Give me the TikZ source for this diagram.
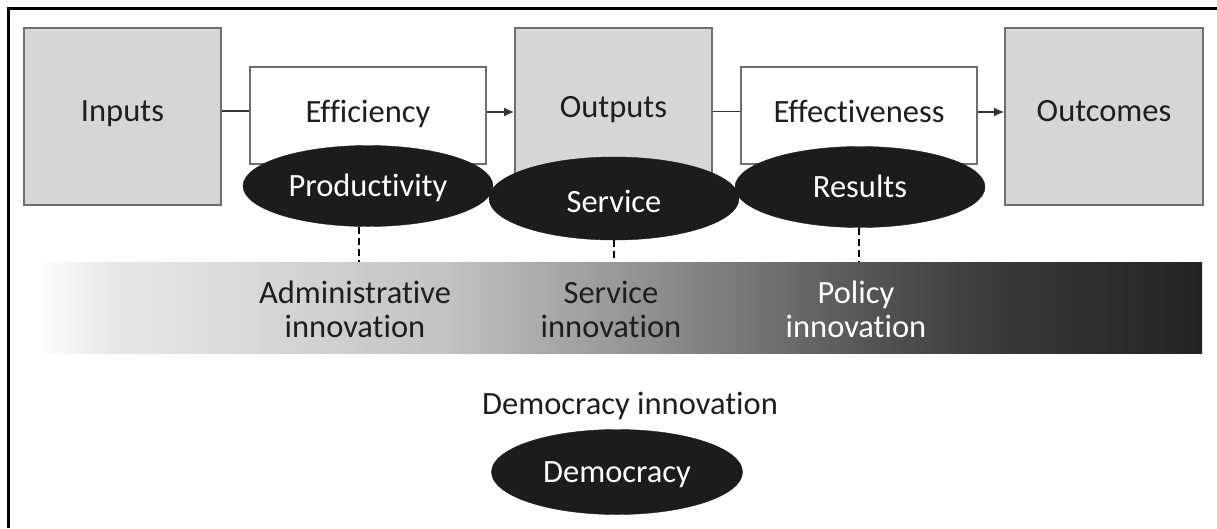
\documentclass[tikz,border=0pt]{standalone}
\usepackage{fontspec}
\setmainfont{Carlito}[Ligatures=NoCommon]
\usetikzlibrary{shapes.geometric,arrows.meta}
\definecolor{boxfill}{HTML}{D6D6D6}
\definecolor{boxline}{HTML}{6E6E6E}
\definecolor{ink}{HTML}{1E1E1E}
\definecolor{ovalfill}{HTML}{1C1C1C}
\pgfdeclarehorizontalshading{barshade}{100bp}{color(0bp)=(white); color(25bp)=(white); color(26.5bp)=(black!4); color(28.3bp)=(black!9); color(34.3bp)=(black!15); color(42.8bp)=(black!24); color(49.9bp)=(black!40); color(55.7bp)=(black!54); color(60.4bp)=(black!66); color(66.4bp)=(black!78); color(75bp)=(black!86); color(100bp)=(black!86)}
\begin{document}
\begin{tikzpicture}[x=1pt,y=-1pt,
  every node/.style={font=\fontsize{32.5pt}{34pt}\selectfont, text=ink},
  bigbox/.style={draw=boxline, line width=1.6pt, fill=boxfill, minimum width=197pt, minimum height=177pt, inner sep=0pt, text height=20pt, text depth=11pt},
  smallbox/.style={draw=boxline, line width=1.6pt, fill=white, minimum width=236pt, minimum height=97pt, inner sep=0pt, text height=20pt, text depth=6pt},
  oval/.style={ellipse, fill=ovalfill, draw=ovalfill, minimum width=250pt, minimum height=81pt, inner sep=0pt, text=white, text height=20pt, text depth=0pt},
  link/.style={draw=black!80, line width=1.8pt},
  arrowlink/.style={link, -{Latex[length=10pt,width=9pt]}},
  dashline/.style={draw=black, line width=2.5pt, dash pattern=on 7pt off 4pt},
  bartext/.style={align=center, text height=20pt, text depth=0pt},
  barband/.style={shading=barshade, draw=none, minimum width=1169pt, minimum height=91pt, inner sep=0pt}]
\useasboundingbox (0,0) rectangle (1217,528);
% frame
\draw[line width=2.4pt] (8.3,528) -- (8.3,8.3) -- (1217,8.3);
% boxes
\node[bigbox] (inputs) at (122.5,116.5) {Inputs};
\node[smallbox] (eff) at (368,115.5) {Efficiency};
\node[bigbox, text depth=19pt] (outputs) at (613.5,116.5) {Outputs};
\node[smallbox] (effe) at (859,115.5) {Effectiveness};
\node[bigbox, minimum width=198pt] (outcomes) at (1104,116.5) {Outcomes};
% connectors
\draw[link] ([yshift=5.5pt]inputs.east) -- ([yshift=5.5pt]inputs.east -| eff.west);
\draw[arrowlink] ([yshift=3.5pt]eff.east) -- ([yshift=3.5pt]eff.east -| outputs.west);
\draw[link] ([yshift=5pt]outputs.east) -- ([yshift=5pt]outputs.east -| effe.west);
\draw[arrowlink] ([yshift=3.5pt]effe.east) -- ([yshift=3.5pt]effe.east -| outcomes.west);
% gradient band
\node[barband] (bar) at (617.5,307.5) {};
% ovals
\node[oval] (prod) at (368,186) {Productivity};
\node[oval] (res) at (860,187) {Results};
\node[oval, minimum height=83pt, text height=28pt] (serv) at (614,198.5) {Service};
% dashed links
\draw[dashline] ([xshift=-9pt]prod.south) -- ([xshift=-9pt]prod.south |- bar.north);
\draw[dashline] (serv.south) -- (serv.south |- bar.north);
\draw[dashline] ([xshift=-1pt]res.south) -- ([xshift=-1pt]res.south |- bar.north);
% band texts
\node[bartext] (adm) at (355,327) {Administrative\\innovation};
\node[bartext] (sinn) at (611,327) {Service\\innovation};
\node[bartext, text=white] (pinn) at (856,327) {Policy\\innovation};
% democracy
\node[bartext] (dinn) at (630,404) {Democracy innovation};
\node[oval, minimum width=251pt, minimum height=85pt] (dem) at (617,472) {Democracy};
\end{tikzpicture}
\end{document}
